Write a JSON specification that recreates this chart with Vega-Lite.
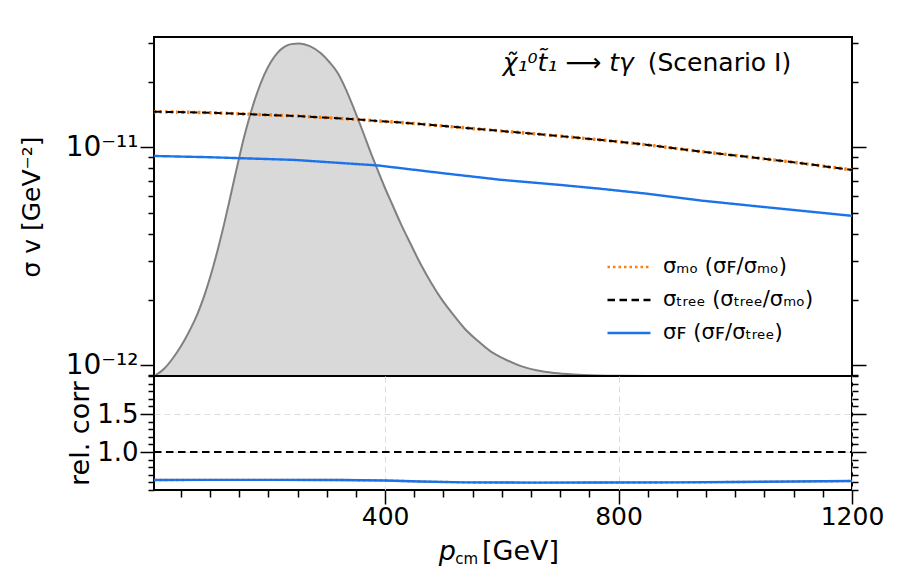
{
  "$schema": "https://vega.github.io/schema/vega-lite/v6.json",
  "padding": {"left": 18, "top": 36, "right": 0, "bottom": 0},
  "spacing": 0,
  "bounds": "flush",
  "config": {
    "font": "DejaVu Sans",
    "view": {"stroke": "#000000", "strokeWidth": 2},
    "axis": {
      "domain": false,
      "grid": false,
      "tickColor": "#000000",
      "tickWidth": 1.5,
      "labelColor": "#000000",
      "titleColor": "#000000",
      "labelFont": "DejaVu Sans",
      "titleFont": "DejaVu Sans",
      "titleFontWeight": "normal",
      "labelOverlap": false,
      "labelFlush": false,
      "labelBound": false
    }
  },
  "datasets": {
    "pcm_dist": [
      {"p": 4, "density": 0.0}, {"p": 7.4, "density": 0.003}, {"p": 21.7, "density": 0.022},
      {"p": 33.1, "density": 0.045}, {"p": 44.6, "density": 0.073}, {"p": 55.9, "density": 0.105},
      {"p": 67.4, "density": 0.142}, {"p": 78.9, "density": 0.185}, {"p": 90.2, "density": 0.237},
      {"p": 101.7, "density": 0.3}, {"p": 113.1, "density": 0.372}, {"p": 124.5, "density": 0.451},
      {"p": 135.9, "density": 0.537}, {"p": 147.4, "density": 0.625}, {"p": 158.7, "density": 0.707},
      {"p": 170.2, "density": 0.779}, {"p": 181.7, "density": 0.84}, {"p": 193.0, "density": 0.889},
      {"p": 204.5, "density": 0.927}, {"p": 215.9, "density": 0.954}, {"p": 227.3, "density": 0.971},
      {"p": 238.7, "density": 0.979}, {"p": 253.0, "density": 0.981}, {"p": 271.0, "density": 0.973},
      {"p": 290.0, "density": 0.952}, {"p": 304.0, "density": 0.927}, {"p": 318.8, "density": 0.894},
      {"p": 333.0, "density": 0.845}, {"p": 347.2, "density": 0.786}, {"p": 361.6, "density": 0.722},
      {"p": 375.8, "density": 0.657}, {"p": 387.3, "density": 0.607}, {"p": 398.7, "density": 0.559},
      {"p": 413.0, "density": 0.503}, {"p": 427.2, "density": 0.448}, {"p": 444.4, "density": 0.387},
      {"p": 461.5, "density": 0.328}, {"p": 478.6, "density": 0.276}, {"p": 495.8, "density": 0.229},
      {"p": 515.8, "density": 0.183}, {"p": 535.7, "density": 0.141}, {"p": 558.6, "density": 0.104},
      {"p": 581.4, "density": 0.072}, {"p": 607.1, "density": 0.048}, {"p": 632.8, "density": 0.029},
      {"p": 661.4, "density": 0.016}, {"p": 689.9, "density": 0.009}, {"p": 724.0, "density": 0.0045},
      {"p": 764.0, "density": 0.0018}, {"p": 804.0, "density": 0.0005}, {"p": 850, "density": 0.0},
      {"p": 1000, "density": 0.0}, {"p": 1200, "density": 0.0}
    ],
    "sigma": [
      {"p": 4, "series": "MO", "sigma": 1.455e-11}, {"p": 100, "series": "MO", "sigma": 1.44e-11},
      {"p": 170, "series": "MO", "sigma": 1.416e-11}, {"p": 250, "series": "MO", "sigma": 1.39e-11},
      {"p": 342, "series": "MO", "sigma": 1.346e-11}, {"p": 450, "series": "MO", "sigma": 1.285e-11},
      {"p": 599, "series": "MO", "sigma": 1.187e-11}, {"p": 700, "series": "MO", "sigma": 1.125e-11},
      {"p": 770, "series": "MO", "sigma": 1.08e-11}, {"p": 850, "series": "MO", "sigma": 1.025e-11},
      {"p": 941, "series": "MO", "sigma": 9.55e-12}, {"p": 1030, "series": "MO", "sigma": 8.98e-12},
      {"p": 1113, "series": "MO", "sigma": 8.45e-12}, {"p": 1200, "series": "MO", "sigma": 7.87e-12},
      {"p": 4, "series": "Tree", "sigma": 1.455e-11}, {"p": 100, "series": "Tree", "sigma": 1.44e-11},
      {"p": 170, "series": "Tree", "sigma": 1.416e-11}, {"p": 250, "series": "Tree", "sigma": 1.39e-11},
      {"p": 342, "series": "Tree", "sigma": 1.346e-11}, {"p": 450, "series": "Tree", "sigma": 1.285e-11},
      {"p": 599, "series": "Tree", "sigma": 1.187e-11}, {"p": 700, "series": "Tree", "sigma": 1.125e-11},
      {"p": 770, "series": "Tree", "sigma": 1.08e-11}, {"p": 850, "series": "Tree", "sigma": 1.025e-11},
      {"p": 941, "series": "Tree", "sigma": 9.55e-12}, {"p": 1030, "series": "Tree", "sigma": 8.98e-12},
      {"p": 1113, "series": "Tree", "sigma": 8.45e-12}, {"p": 1200, "series": "Tree", "sigma": 7.87e-12},
      {"p": 4, "series": "F", "sigma": 9.12e-12}, {"p": 100, "series": "F", "sigma": 9.0e-12},
      {"p": 244, "series": "F", "sigma": 8.75e-12}, {"p": 388, "series": "F", "sigma": 8.25e-12},
      {"p": 500, "series": "F", "sigma": 7.6e-12}, {"p": 599, "series": "F", "sigma": 7.09e-12},
      {"p": 700, "series": "F", "sigma": 6.72e-12}, {"p": 770, "series": "F", "sigma": 6.45e-12},
      {"p": 850, "series": "F", "sigma": 6.12e-12}, {"p": 941, "series": "F", "sigma": 5.7e-12},
      {"p": 1056, "series": "F", "sigma": 5.3e-12}, {"p": 1200, "series": "F", "sigma": 4.85e-12}
    ],
    "ratio": [
      {"p": 4, "series": "F/MO", "r": 0.632}, {"p": 100, "series": "F/MO", "r": 0.633},
      {"p": 200, "series": "F/MO", "r": 0.633}, {"p": 321, "series": "F/MO", "r": 0.632},
      {"p": 400, "series": "F/MO", "r": 0.625}, {"p": 460, "series": "F/MO", "r": 0.612},
      {"p": 536, "series": "F/MO", "r": 0.6}, {"p": 650, "series": "F/MO", "r": 0.597},
      {"p": 767, "series": "F/MO", "r": 0.598}, {"p": 900, "series": "F/MO", "r": 0.6},
      {"p": 997, "series": "F/MO", "r": 0.605}, {"p": 1100, "series": "F/MO", "r": 0.611},
      {"p": 1200, "series": "F/MO", "r": 0.618},
      {"p": 4, "series": "Tree/MO", "r": 1.0}, {"p": 400, "series": "Tree/MO", "r": 1.0},
      {"p": 800, "series": "Tree/MO", "r": 1.0}, {"p": 1200, "series": "Tree/MO", "r": 1.0},
      {"p": 4, "series": "F/Tree", "r": 0.632}, {"p": 100, "series": "F/Tree", "r": 0.633},
      {"p": 200, "series": "F/Tree", "r": 0.633}, {"p": 321, "series": "F/Tree", "r": 0.632},
      {"p": 400, "series": "F/Tree", "r": 0.625}, {"p": 460, "series": "F/Tree", "r": 0.612},
      {"p": 536, "series": "F/Tree", "r": 0.6}, {"p": 650, "series": "F/Tree", "r": 0.597},
      {"p": 767, "series": "F/Tree", "r": 0.598}, {"p": 900, "series": "F/Tree", "r": 0.6},
      {"p": 997, "series": "F/Tree", "r": 0.605}, {"p": 1100, "series": "F/Tree", "r": 0.611},
      {"p": 1200, "series": "F/Tree", "r": 0.618}
    ],
    "labels": [
      {"part": "process", "text": "χ̃₁⁰t̃₁ ⟶ tγ"},
      {"part": "scenario", "text": "(Scenario I)"},
      {"part": "xsym", "text": "p"},
      {"part": "xsub", "text": "cm"},
      {"part": "xunit", "text": "[GeV]"}
    ]
  },
  "vconcat": [
    {
      "width": 698,
      "height": 339,
      "layer": [
        {
          "data": {"name": "pcm_dist"},
          "mark": {"type": "area", "color": "#d9d9d9", "opacity": 1, "interpolate": "monotone",
                   "line": {"color": "#808080", "strokeWidth": 2}},
          "encoding": {
            "x": {"field": "p", "type": "quantitative", "scale": {"domain": [4, 1200], "nice": false, "zero": false}, "axis": null},
            "y": {"field": "density", "type": "quantitative", "scale": {"domain": [0, 1], "nice": false}, "axis": null}
          }
        },
        {
          "data": {"name": "sigma"},
          "transform": [{"filter": "datum.series === 'MO'"}],
          "mark": {"type": "line", "strokeWidth": 3.4},
          "encoding": {
            "x": {"field": "p", "type": "quantitative", "scale": {"domain": [4, 1200], "nice": false, "zero": false}, "axis": null},
            "y": {"field": "sigma", "type": "quantitative",
                  "scale": {"type": "log", "domain": [8.95e-13, 3.2e-11], "nice": false},
                  "axis": {
                    "orient": "left",
                    "values": [9e-13, 1e-12, 2e-12, 3e-12, 4e-12, 5e-12, 6e-12, 7e-12, 8e-12, 9e-12, 1e-11, 2e-11, 3e-11],
                    "labelExpr": "datum.value == 1e-11 ? '10⁻¹¹' : (datum.value == 1e-12 ? '10⁻¹²' : '')",
                    "labelFontSize": {"condition": {"test": "datum.value == 1e-11 || datum.value == 1e-12", "value": 28}, "value": 0},
                    "labelPadding": 2,
                    "tickSize": {"condition": {"test": "datum.value == 1e-11 || datum.value == 1e-12", "value": 14}, "value": 6},
                    "title": "σ v [GeV⁻²]",
                    "titleFontSize": 25,
                    "titlePadding": 21
                  }},
            "color": {"field": "series", "type": "nominal",
                      "scale": {"domain": ["MO", "Tree", "F"], "range": ["#ff7f0e", "#000000", "#1a73e8"]},
                      "legend": {"orient": "none", "legendX": 452, "legendY": 207, "title": null,
                                 "labelExpr": "datum.label == 'MO' ? 'σₘₒ (σꜰ/σₘₒ)' : (datum.label == 'Tree' ? 'σₜᵣₑₑ (σₜᵣₑₑ/σₘₒ)' : 'σꜰ (σꜰ/σₜᵣₑₑ)')",
                                 "labelFontSize": 21, "labelColor": "#000000", "labelOffset": 11,
                                 "symbolType": "stroke", "symbolSize": 1849, "symbolStrokeWidth": 2.4, "rowPadding": -7}},
            "strokeDash": {"field": "series", "type": "nominal",
                           "scale": {"domain": ["MO", "Tree", "F"], "range": [[2.5, 3], [7.5, 4.5], [1, 0]]},
                           "legend": {"orient": "none", "legendX": 452, "legendY": 207, "title": null,
                                      "labelExpr": "datum.label == 'MO' ? 'σₘₒ (σꜰ/σₘₒ)' : (datum.label == 'Tree' ? 'σₜᵣₑₑ (σₜᵣₑₑ/σₘₒ)' : 'σꜰ (σꜰ/σₜᵣₑₑ)')",
                                      "labelFontSize": 21, "labelColor": "#000000", "labelOffset": 11,
                                      "symbolType": "stroke", "symbolSize": 1849, "symbolStrokeWidth": 2.4, "rowPadding": -7}}
          }
        },
        {
          "data": {"name": "sigma"},
          "transform": [{"filter": "datum.series === 'Tree'"}],
          "mark": {"type": "line", "strokeWidth": 2.0},
          "encoding": {
            "x": {"field": "p", "type": "quantitative", "scale": {"domain": [4, 1200], "nice": false, "zero": false}, "axis": null},
            "y": {"field": "sigma", "type": "quantitative", "scale": {"type": "log", "domain": [8.95e-13, 3.2e-11], "nice": false}, "axis": null},
            "color": {"field": "series", "type": "nominal"},
            "strokeDash": {"field": "series", "type": "nominal"}
          }
        },
        {
          "data": {"name": "sigma"},
          "transform": [{"filter": "datum.series === 'F'"}],
          "mark": {"type": "line", "strokeWidth": 2.4},
          "encoding": {
            "x": {"field": "p", "type": "quantitative", "scale": {"domain": [4, 1200], "nice": false, "zero": false}, "axis": null},
            "y": {"field": "sigma", "type": "quantitative",
                  "scale": {"type": "log", "domain": [8.95e-13, 3.2e-11], "nice": false},
                  "axis": {
                    "orient": "right",
                    "values": [9e-13, 1e-12, 2e-12, 3e-12, 4e-12, 5e-12, 6e-12, 7e-12, 8e-12, 9e-12, 1e-11, 2e-11, 3e-11],
                    "labels": false,
                    "tickSize": {"condition": {"test": "datum.value == 1e-11 || datum.value == 1e-12", "value": 14}, "value": 6},
                    "title": null
                  }},
            "color": {"field": "series", "type": "nominal"},
            "strokeDash": {"field": "series", "type": "nominal"}
          }
        },
        {
          "data": {"name": "labels"},
          "transform": [{"filter": "datum.part === 'process'"}],
          "mark": {"type": "text", "align": "right", "baseline": "alphabetic", "fontSize": 25, "fontStyle": "italic", "color": "#000000"},
          "encoding": {
            "x": {"datum": 826, "type": "quantitative", "scale": {"domain": [4, 1200], "nice": false, "zero": false}, "axis": null},
            "y": {"datum": 2.24e-11, "type": "quantitative", "scale": {"type": "log", "domain": [8.95e-13, 3.2e-11], "nice": false}, "axis": null},
            "text": {"field": "text"}
          }
        },
        {
          "data": {"name": "labels"},
          "transform": [{"filter": "datum.part === 'scenario'"}],
          "mark": {"type": "text", "align": "left", "baseline": "alphabetic", "fontSize": 25, "color": "#000000"},
          "encoding": {
            "x": {"datum": 850, "type": "quantitative", "scale": {"domain": [4, 1200], "nice": false, "zero": false}, "axis": null},
            "y": {"datum": 2.24e-11, "type": "quantitative", "scale": {"type": "log", "domain": [8.95e-13, 3.2e-11], "nice": false}, "axis": null},
            "text": {"field": "text"}
          }
        }
      ],
      "resolve": {"scale": {"y": "independent"}}
    },
    {
      "width": 698,
      "height": 114,
      "layer": [
        {
          "data": {"name": "ratio"},
          "transform": [{"filter": "datum.series === 'F/MO'"}],
          "mark": {"type": "line", "color": "#ff7f0e", "strokeWidth": 2.4, "strokeDash": [2.5, 3]},
          "encoding": {
            "x": {"field": "p", "type": "quantitative",
                  "scale": {"domain": [4, 1200], "nice": false, "zero": false},
                  "axis": {
                    "orient": "bottom",
                    "values": [400, 800, 1200],
                    "format": "d",
                    "labelFontSize": 25,
                    "labelPadding": 0,
                    "tickSize": 14,
                    "grid": true,
                    "gridColor": "#dcdcdc",
                    "gridDash": [6, 4],
                    "gridWidth": 1,
                    "title": null
                  }},
            "y": {"field": "r", "type": "quantitative",
                  "scale": {"domain": [0.5, 2.0], "nice": false, "zero": false},
                  "axis": {
                    "orient": "left",
                    "values": [0.5, 0.6, 0.7, 0.8, 0.9, 1.0, 1.1, 1.2, 1.3, 1.4, 1.5, 1.6, 1.7, 1.8, 1.9, 2.0],
                    "labelExpr": "datum.value == 1 ? '1.0' : (datum.value == 1.5 ? '1.5' : '')",
                    "labelFontSize": {"condition": {"test": "datum.value == 1 || datum.value == 1.5", "value": 26}, "value": 0},
                    "labelPadding": 2,
                    "tickSize": {"condition": {"test": "datum.value == 1 || datum.value == 1.5", "value": 14}, "value": 6},
                    "grid": true,
                    "gridColor": "#dcdcdc",
                    "gridDash": [6, 4],
                    "gridWidth": 1,
                    "gridOpacity": {"condition": {"test": "datum.value == 1 || datum.value == 1.5", "value": 1}, "value": 0},
                    "title": "rel. corr",
                    "titleFontSize": 27,
                    "titlePadding": 2
                  }}
          }
        },
        {
          "data": {"name": "ratio"},
          "transform": [{"filter": "datum.series === 'Tree/MO'"}],
          "mark": {"type": "line", "color": "#000000", "strokeWidth": 2.2, "strokeDash": [7.5, 4.5]},
          "encoding": {
            "x": {"field": "p", "type": "quantitative",
                  "scale": {"domain": [4, 1200], "nice": false, "zero": false},
                  "axis": {
                    "orient": "bottom",
                    "values": [50, 100, 150, 200, 250, 300, 350, 450, 500, 550, 600, 650, 700, 750, 850, 900, 950, 1000, 1050, 1100, 1150],
                    "labels": false,
                    "tickSize": 7,
                    "grid": false,
                    "title": null
                  }},
            "y": {"field": "r", "type": "quantitative", "scale": {"domain": [0.5, 2.0], "nice": false, "zero": false}, "axis": null}
          }
        },
        {
          "data": {"name": "ratio"},
          "transform": [{"filter": "datum.series === 'F/Tree'"}],
          "mark": {"type": "line", "color": "#1a73e8", "strokeWidth": 2.4},
          "encoding": {
            "x": {"field": "p", "type": "quantitative", "scale": {"domain": [4, 1200], "nice": false, "zero": false}, "axis": null},
            "y": {"field": "r", "type": "quantitative",
                  "scale": {"domain": [0.5, 2.0], "nice": false, "zero": false},
                  "axis": {
                    "orient": "right",
                    "values": [0.5, 0.6, 0.7, 0.8, 0.9, 1.0, 1.1, 1.2, 1.3, 1.4, 1.5, 1.6, 1.7, 1.8, 1.9, 2.0],
                    "labels": false,
                    "tickSize": {"condition": {"test": "datum.value == 1 || datum.value == 1.5", "value": 14}, "value": 6},
                    "title": null
                  }}
          }
        },
        {
          "data": {"name": "labels"},
          "transform": [{"filter": "datum.part === 'xsym'"}],
          "mark": {"type": "text", "align": "left", "baseline": "alphabetic", "fontSize": 27, "fontStyle": "italic", "color": "#000000"},
          "encoding": {
            "x": {"datum": 492, "type": "quantitative", "scale": {"domain": [4, 1200], "nice": false, "zero": false}, "axis": null},
            "y": {"datum": -0.42, "type": "quantitative", "scale": {"domain": [0.5, 2.0], "nice": false, "zero": false}, "axis": null},
            "text": {"field": "text"}
          }
        },
        {
          "data": {"name": "labels"},
          "transform": [{"filter": "datum.part === 'xsub'"}],
          "mark": {"type": "text", "align": "left", "baseline": "alphabetic", "fontSize": 15, "color": "#000000"},
          "encoding": {
            "x": {"datum": 520, "type": "quantitative", "scale": {"domain": [4, 1200], "nice": false, "zero": false}, "axis": null},
            "y": {"datum": -0.48, "type": "quantitative", "scale": {"domain": [0.5, 2.0], "nice": false, "zero": false}, "axis": null},
            "text": {"field": "text"}
          }
        },
        {
          "data": {"name": "labels"},
          "transform": [{"filter": "datum.part === 'xunit'"}],
          "mark": {"type": "text", "align": "left", "baseline": "alphabetic", "fontSize": 27, "color": "#000000"},
          "encoding": {
            "x": {"datum": 566, "type": "quantitative", "scale": {"domain": [4, 1200], "nice": false, "zero": false}, "axis": null},
            "y": {"datum": -0.42, "type": "quantitative", "scale": {"domain": [0.5, 2.0], "nice": false, "zero": false}, "axis": null},
            "text": {"field": "text"}
          }
        }
      ],
      "resolve": {"axis": {"x": "independent", "y": "independent"}}
    }
  ]
}
